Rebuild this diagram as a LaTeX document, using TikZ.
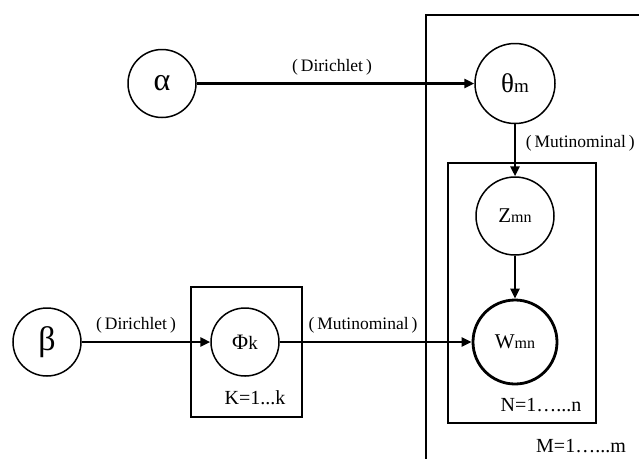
\documentclass[tikz,border=0pt]{standalone}
\usepackage{fontspec}
\setmainfont{Liberation Serif}
\usetikzlibrary{arrows.meta}
\begin{document}
\begin{tikzpicture}[x=1pt,y=-1pt,
  var/.style={circle,draw,line width=1.5pt,inner sep=0pt},
  conn/.style={line width=2.8pt,-{Triangle[length=10pt,width=9pt]}},
  plate/.style={draw,line width=2.6pt,inner sep=0pt},
  lbl/.style={font=\fontsize{17.5}{19}\selectfont,inner sep=0pt},
  idx/.style={font=\fontsize{20}{22}\selectfont,inner sep=0pt},
]
\useasboundingbox (0,0) rectangle (639,459);
\fill[white] (0,0) rectangle (639,459);
% plates
\node[plate,minimum width=111pt,minimum height=130pt] (pk) at (246.5,352) {};
\node[plate,minimum width=148pt,minimum height=260pt] (pn) at (522,293) {};
\draw[line width=2.6pt] (639,15) -| (426,459);
% variables
\node[var,minimum size=68pt] (alpha) at (162,83.5) {\fontsize{32}{34}\selectfont α};
\node[var,minimum size=80pt] (theta) at (515,83.5) {\fontsize{27}{29}\selectfont θ\fontsize{19}{21}\selectfont m};
\node[var,minimum size=78pt] (z) at (515,216) {\fontsize{21}{23}\selectfont Z\fontsize{16}{18}\selectfont mn};
\node[var,line width=2.8pt,minimum size=84pt] (w) at (515,342) {\fontsize{21}{23}\selectfont W\fontsize{16}{18}\selectfont mn};
\node[var,minimum size=68pt] (beta) at (47,342) {\fontsize{34}{36}\selectfont β};
\node[var,minimum size=68pt] (phi) at (245,342) {\fontsize{22}{24}\selectfont Φ\fontsize{19}{21}\selectfont k};
% connectors
\draw[conn] (alpha) -- (theta);
\draw[conn] (theta) -- (z);
\draw[conn] (z) -- (w);
\draw[conn] (beta) -- (phi);
\draw[conn] (phi) -- (w);
% labels
\node[lbl] (l1) at (332,67) {(\,Dirichlet\,)};
\node[lbl] (l2) at (136,325) {(\,Dirichlet\,)};
\node[lbl] (l3) at (363,325) {(\,Mutinominal\,)};
\node[lbl,anchor=east] (l4) at (635,143) {(\,Mutinominal\,)};
\node[idx] (kk) at (255,398) {K=1...k};
\node[idx] (nn) at (541,405) {N=1…...n};
\node[idx] (mm) at (581,446) {M=1…...m};
\end{tikzpicture}
\end{document}
